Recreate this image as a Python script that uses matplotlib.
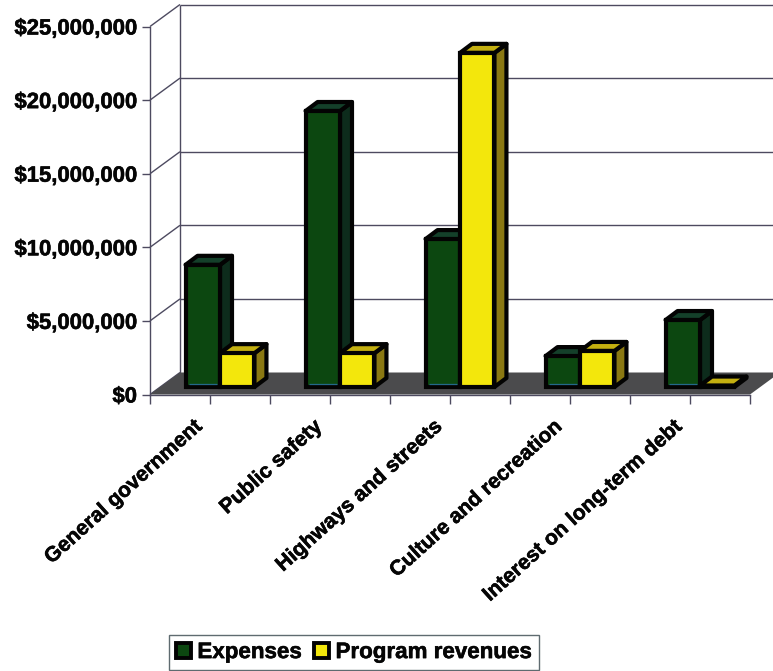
import numpy as np
import matplotlib
matplotlib.use("Agg")
import matplotlib.pyplot as plt
import matplotlib.patheffects as pe
from matplotlib.patches import Polygon, Patch
from matplotlib.transforms import Affine2D, IdentityTransform

categories = ["General government", "Public safety", "Highways and streets",
              "Culture and recreation", "Interest on long-term debt"]
expenses = [8.3e6, 18.75e6, 10.05e6, 2.1e6, 4.55e6]
program_revenues = [2.3e6, 2.3e6, 22.7e6, 2.45e6, 0.1e6]
y_ticks = [0, 5e6, 10e6, 15e6, 20e6, 25e6]
y_labels = ["$0", "$5,000,000", "$10,000,000", "$15,000,000", "$20,000,000", "$25,000,000"]

GREEN = ("#0c4710", "#14402a", "#0d2c1c")
YELLOW = ("#f3e70c", "#c4b010", "#8a7812")
EDGE = "#030303"
GRID = "#4d4a60"
FONT = "Liberation Sans"
HEAVY = [pe.withStroke(linewidth=0.4, foreground="#050505")]

W, H = 773, 671
fig = plt.figure(figsize=(W / 100, H / 100), dpi=100, facecolor="white")
ax = fig.add_axes([150 / W, (H - 394.5) / H, 600 / W, 368 / H])
ax.set_xlim(0, 5)
ax.set_ylim(0, 25e6)
ax.patch.set_visible(False)

WALL = np.array([30.0, 22.0])   # depth of the back wall, display px
BAR_FRONT = np.array([10.0, 7.5])
BAR_DEPTH = np.array([12.0, 9.0])
BAR_W = 0.287
BAR_LW = 3.0


def to_px(x, y, shift=(0, 0)):
    return ax.transData.transform((x, y)) + np.asarray(shift)


def face(points, color, z, lw=0.0, ec="none"):
    ax.add_patch(Polygon(points, closed=True, facecolor=color, edgecolor=ec, linewidth=lw,
                         joinstyle="round", transform=IdentityTransform(), clip_on=False, zorder=z))


def line(p, q, z=1, lw=1.0, color=GRID):
    ax.plot([p[0], q[0]], [p[1], q[1]], color=color, lw=lw, transform=IdentityTransform(),
            clip_on=False, zorder=z, solid_capstyle="butt")


# floor and walls
face([to_px(0, 0), to_px(0, 0, WALL), to_px(5, 0, WALL), to_px(5, 0)], "#4b4b4d", 2)
line(to_px(0, 0, WALL), to_px(0, 25e6, WALL), z=1)
for v in y_ticks:
    line(to_px(0, v), to_px(0, v, WALL), z=1)
    if v > 0:
        line(to_px(0, v, WALL), to_px(5, v, WALL), z=1)


def box(x0, value, palette, z, accent=None):
    x1 = x0 + BAR_W
    front, top, side = palette
    a, b, c, d = (to_px(x0, 0, BAR_FRONT), to_px(x1, 0, BAR_FRONT),
                  to_px(x1, value, BAR_FRONT), to_px(x0, value, BAR_FRONT))
    kw = dict(lw=BAR_LW, ec=EDGE)
    face([b, b + BAR_DEPTH, c + BAR_DEPTH, c], side, z, **kw)
    face([d, c, c + BAR_DEPTH, d + BAR_DEPTH], top, z, **kw)
    shifted = ax.transData + Affine2D().translate(*BAR_FRONT)
    ax.bar(x0, value, BAR_W, align="edge", color=front, edgecolor=EDGE, linewidth=BAR_LW,
           transform=shifted, clip_on=False, zorder=z + 0.1)
    if accent:
        # thin highlight just inside the lower border of the face
        line(a + (3, 3), b + (-3, 3), z=z + 0.2, lw=0.9, color=accent)


for i, (e, r) in enumerate(zip(expenses, program_revenues)):
    centre = i + 0.5
    box(centre - BAR_W, e, GREEN, 3 + i * 0.01, accent="#24688a")
    box(centre, r, YELLOW, 3.5 + i * 0.01)

ax.set_xlim(0, 5)
ax.set_ylim(0, 25e6)

# axes, ticks, labels
for s in ("top", "right"):
    ax.spines[s].set_visible(False)
for s in ("left", "bottom"):
    ax.spines[s].set_color(GRID)
    ax.spines[s].set_linewidth(1.0)
    ax.spines[s].set_zorder(2.5)
ax.set_yticks(y_ticks, y_labels, fontfamily=FONT, fontweight="bold", fontsize=15.9)
for t in ax.get_yticklabels():
    t.set_path_effects(HEAVY)
ax.set_xticks(np.arange(len(categories)) + 0.5, [""] * len(categories))
ax.set_xticks(np.arange(len(categories) + 1), minor=True)
ax.tick_params(axis="y", length=5.8, width=1.0, color=GRID, pad=3.6, labelcolor="#050505")
ax.tick_params(axis="x", which="both", length=6.5, width=1.0, color=GRID)

for i, name in enumerate(categories):
    ax.annotate(name, xy=(i + 0.5, 0), xycoords="data", xytext=(-7.5, -21), textcoords="offset points",
                ha="right", va="center", rotation=42, rotation_mode="anchor", color="#050505",
                fontfamily=FONT, fontweight="bold", fontsize=15.1, path_effects=HEAVY,
                annotation_clip=False)

# legend
handles = [Patch(facecolor=GREEN[0], edgecolor=EDGE, linewidth=2.8, label="Expenses"),
           Patch(facecolor=YELLOW[0], edgecolor=EDGE, linewidth=2.8, label="Program revenues")]
leg = fig.legend(handles=handles, loc="lower left", bbox_to_anchor=(169 / W, 1 / H), ncol=2,
                 frameon=True, fancybox=False, edgecolor="#5f6b70", framealpha=1,
                 prop=dict(family=FONT, weight="bold", size=16.1), handlelength=0.66, handleheight=0.66,
                 handletextpad=0.3, columnspacing=0.56, borderpad=0.31, labelcolor="#050505",
                 borderaxespad=0)
leg.get_frame().set_linewidth(1.0)
for t in leg.get_texts():
    t.set_path_effects(HEAVY)

fig.savefig("out.png", dpi=100)
